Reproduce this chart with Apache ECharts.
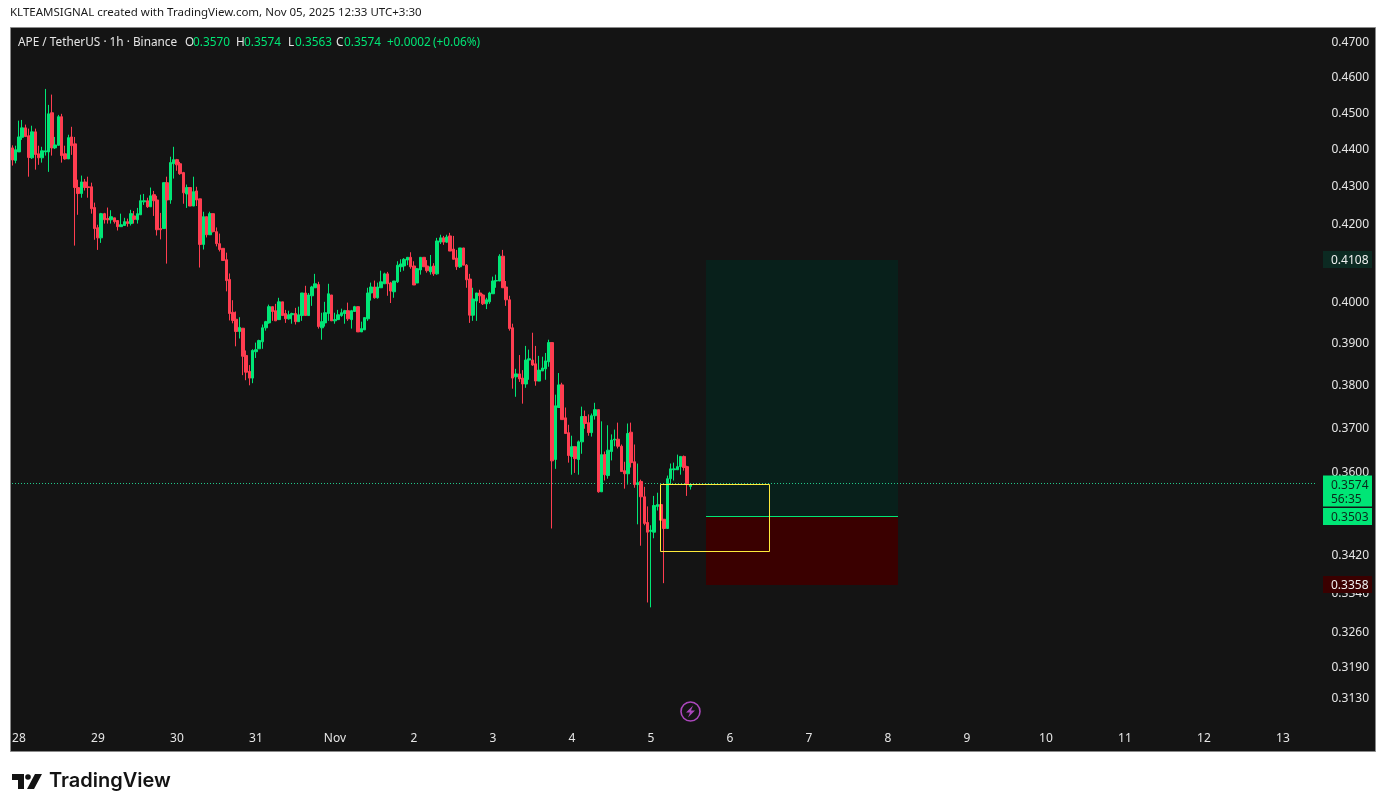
<!DOCTYPE html>
<html>
<head>
<meta charset="utf-8">
<title>APE / TetherUS</title>
<script src="https://cdn.jsdelivr.net/npm/echarts@6/dist/echarts.min.js"></script>
<style>
html, body { margin: 0; padding: 0; background: #fff; }
#chart { width: 1386px; height: 812px; }
</style>
</head>
<body>
<div id="chart"></div>
<script>
// hourly candles, each row is open, close, low, high
var oct27 = [
[.4404,.4371,.4356,.4411],[.4370,.4399,.4362,.4410]];
var oct28 = [
[.4393,.4434,.4393,.4479],[.4433,.4459,.4426,.4481],[.4459,.4435,.4435,.4468],[.4437,.4378,.4326,.4457],
[.4377,.4448,.4374,.4465],[.4448,.4386,.4345,.4457],[.4388,.4377,.4358,.4410],[.4377,.4396,.4364,.4407],
[.4393,.4396,.4383,.4568],[.4393,.4498,.4339,.4523],[.4501,.4404,.4383,.4552],[.4404,.4412,.4401,.4434],
[.4411,.4490,.4410,.4495],[.4490,.4383,.4364,.4498],[.4388,.4374,.4372,.4410],[.4374,.4432,.4374,.4440],
[.4434,.4410,.4385,.4462],[.4415,.4297,.4145,.4434],[.4297,.4281,.4225,.4318],[.4281,.4312,.4270,.4329],
[.4312,.4297,.4289,.4320],[.4299,.4297,.4270,.4326],[.4299,.4241,.4228,.4310],[.4244,.4189,.4160,.4257]];
var oct29 = [
[.4191,.4165,.4134,.4199],[.4165,.4228,.4152,.4230],[.4228,.4212,.4202,.4230],[.4215,.4212,.4202,.4244],
[.4212,.4220,.4202,.4237],[.4217,.4207,.4202,.4217],[.4210,.4194,.4184,.4210],[.4194,.4199,.4194,.4228],
[.4197,.4207,.4197,.4217],[.4207,.4202,.4194,.4215],[.4202,.4228,.4197,.4238],[.4222,.4213,.4202,.4235],
[.4212,.4228,.4202,.4243],[.4225,.4262,.4225,.4278],[.4259,.4262,.4251,.4280],[.4262,.4246,.4243,.4270],
[.4246,.4275,.4246,.4297],[.4278,.4262,.4222,.4288],[.4264,.4186,.4171,.4275],[.4189,.4186,.4161,.4230],
[.4189,.4310,.4189,.4310],[.4310,.4264,.4099,.4326],[.4264,.4364,.4254,.4380],[.4361,.4372,.4321,.4407]];
var oct30 = [
[.4372,.4358,.4342,.4374],[.4361,.4334,.4331,.4366],[.4337,.4283,.4254,.4339],[.4280,.4297,.4243,.4305],
[.4297,.4248,.4248,.4297],[.4248,.4286,.4248,.4326],[.4288,.4264,.4248,.4299],[.4267,.4148,.4089,.4267],
[.4148,.4220,.4135,.4233],[.4220,.4173,.4166,.4220],[.4173,.4228,.4173,.4233],[.4228,.4181,.4179,.4228],
[.4181,.4150,.4143,.4192],[.4150,.4135,.4130,.4176],[.4138,.4107,.4107,.4138],[.4109,.4056,.4029,.4127],
[.4059,.3974,.3957,.4074],[.3977,.3957,.3950,.4007],[.3960,.3930,.3894,.3979],[.3930,.3940,.3913,.3965],
[.3938,.3870,.3825,.3938],[.3872,.3832,.3813,.3884],[.3834,.3818,.3801,.3849],[.3818,.3884,.3806,.3887]];
var oct31 = [
[.3881,.3886,.3866,.3903],[.3888,.3908,.3888,.3910],[.3905,.3939,.3888,.3947],[.3939,.3954,.3932,.3956],
[.3951,.3991,.3949,.3996],[.3991,.3979,.3956,.3991],[.3981,.3956,.3956,.3998],[.3959,.4003,.3959,.4013],
[.4003,.3969,.3969,.4003],[.3974,.3961,.3951,.3983],[.3961,.3971,.3959,.3981],[.3971,.3974,.3949,.3976],
[.3974,.3954,.3947,.3988],[.3954,.3971,.3954,.3991],[.3969,.4025,.3956,.4025],[.4025,.3969,.3969,.4043],
[.3969,.4020,.3969,.4025],[.4018,.4040,.3993,.4043],[.4038,.4048,.4038,.4073],[.4046,.3942,.3937,.4053],
[.3939,.3954,.3910,.3976],[.3951,.3976,.3942,.4003],[.3974,.4023,.3956,.4048],[.4020,.3956,.3956,.4020]];
var nov1 = [
[.3956,.3959,.3949,.3976],[.3959,.3971,.3959,.3983],[.3969,.3976,.3966,.3986],[.3974,.3981,.3949,.3983],
[.3981,.3961,.3956,.4001],[.3959,.3981,.3937,.3983],[.3979,.3991,.3979,.3993],[.3991,.3929,.3929,.3991],
[.3929,.3937,.3929,.3954],[.3934,.3964,.3934,.3964],[.3961,.4025,.3956,.4038],[.4025,.4040,.4006,.4051],
[.4040,.4013,.4011,.4056],[.4013,.4040,.4011,.4051],[.4038,.4053,.4038,.4081],[.4048,.4073,.4048,.4076],
[.4073,.4048,.4018,.4078],[.4050,.4030,.4000,.4053],[.4028,.4055,.4013,.4055],[.4053,.4095,.4050,.4105],
[.4091,.4098,.4078,.4110],[.4093,.4110,.4081,.4113],[.4108,.4115,.4095,.4115],[.4115,.4091,.4086,.4128]];
var nov2 = [
[.4093,.4045,.4045,.4105],[.4050,.4086,.4050,.4088],[.4083,.4115,.4071,.4115],[.4115,.4091,.4091,.4115],
[.4093,.4081,.4076,.4108],[.4078,.4091,.4071,.4121],[.4093,.4073,.4068,.4100],[.4073,.4157,.4071,.4165],
[.4154,.4165,.4149,.4173],[.4165,.4154,.4147,.4170],[.4154,.4167,.4152,.4173],[.4170,.4131,.4131,.4178],
[.4136,.4110,.4110,.4170],[.4113,.4091,.4083,.4134],[.4091,.4139,.4088,.4139],[.4139,.4095,.4095,.4139],
[.4095,.4058,.4038,.4098],[.4060,.3970,.3951,.4073],[.3970,.4010,.3956,.4038],[.4005,.4025,.3956,.4025],
[.4025,.4018,.4000,.4033],[.4020,.3998,.3995,.4023],[.3998,.4008,.3985,.4013],[.4003,.4025,.3998,.4028]];
var nov3 = [
[.4023,.4055,.4023,.4066],[.4055,.4056,.4038,.4071],[.4055,.4118,.4055,.4123],[.4118,.4038,.4038,.4134],
[.4040,.4008,.3993,.4055],[.4008,.3937,.3932,.4018],[.3939,.3818,.3793,.3949],[.3821,.3828,.3774,.3840],
[.3828,.3816,.3809,.3873],[.3818,.3804,.3758,.3837],[.3804,.3861,.3795,.3895],[.3861,.3864,.3814,.3886],
[.3861,.3849,.3847,.3927],[.3852,.3811,.3800,.3895],[.3811,.3837,.3811,.3871],[.3835,.3842,.3835,.3869],
[.3840,.3859,.3814,.3878],[.3857,.3903,.3845,.3910],[.3903,.3627,.3478,.3903],[.3630,.3753,.3609,.3779],
[.3749,.3802,.3749,.3830],[.3802,.3721,.3721,.3807],[.3725,.3689,.3689,.3749],[.3691,.3639,.3623,.3709]];
var nov4 = [
[.3637,.3659,.3596,.3684],[.3659,.3632,.3600,.3659],[.3630,.3670,.3596,.3673],[.3670,.3728,.3643,.3751],
[.3728,.3712,.3700,.3742],[.3714,.3691,.3684,.3733],[.3691,.3730,.3682,.3735],[.3730,.3744,.3721,.3760],
[.3744,.3558,.3556,.3744],[.3558,.3641,.3558,.3717],[.3641,.3596,.3583,.3648],[.3594,.3651,.3587,.3708],
[.3648,.3674,.3628,.3687],[.3674,.3676,.3660,.3698],[.3676,.3660,.3655,.3714],[.3660,.3603,.3603,.3664],
[.3605,.3598,.3565,.3625],[.3598,.3689,.3574,.3712],[.3692,.3623,.3612,.3714],[.3625,.3574,.3567,.3664],
[.3574,.3578,.3487,.3621],[.3581,.3547,.3441,.3585],[.3547,.3489,.3485,.3569],[.3491,.3470,.3322,.3526]];
var nov5 = [
[.3472,.3474,.3312,.3485],[.3470,.3528,.3457,.3549],[.3526,.3530,.3517,.3556],[.3530,.3496,.3496,.3530],
[.3498,.3478,.3362,.3498],[.3478,.3587,.3478,.3594],[.3587,.3609,.3574,.3621],[.3607,.3609,.3583,.3623],
[.3607,.3614,.3607,.3641],[.3614,.3637,.3596,.3637],[.3637,.3612,.3605,.3639],[.3614,.3574,.3549,.3616],
[.3570,.3574,.3563,.3574]];

var dayTickIndex = [2, 26, 50, 74, 98, 122, 146, 170, 194, 218, 242, 266, 290, 314, 338, 362, 386];
var dayTickLabels = ['28', '29', '30', '31', 'Nov', '2', '3', '4', '5', '6', '7', '8', '9', '10', '11', '12', '13'];
var priceTicks = [0.47, 0.46, 0.45, 0.44, 0.43, 0.42, 0.40, 0.39, 0.38, 0.37, 0.36, 0.342, 0.334, 0.326, 0.319, 0.313];

var lastPrice = 0.3574;
var entryPrice = 0.3503;
var targetPrice = 0.4108;
var stopPrice = 0.3358;
var boxLowPrice = 0.3429;

var badgePrices = [targetPrice, stopPrice, entryPrice, lastPrice];
var badgeLabels = ['0.4108', '0.3358', '0.3503', '0.3574'];
var badgeCountdown = ['', '', '', '56:35'];
var badgeFill = ['#0c2a22', '#3a0000', '#00e676', '#00e676'];
var badgeText = ['#f0f0f0', '#f0f0f0', '#0b2a1c', '#0b2a1c'];

// long position zones, by candle slot and price
var zoneFrom = [211, 211];
var zoneTo = [269, 269];
var zoneTop = [targetPrice, entryPrice];
var zoneBottom = [entryPrice, stopPrice];
var zoneFill = ['#08201b', '#3a0000'];

var levelPrices = [lastPrice, entryPrice];
var levelFrom = [0, 211];
var levelTo = [396, 269];
var levelColor = ['#22c98a', '#00e676'];
var levelDash = [[1, 2], null];
var levelShift = [-1, 0];

var headerTexts = ['APE / TetherUS · 1h · Binance', 'O', '0.3570', 'H', '0.3574', 'L', '0.3563', 'C', '0.3574', '+0.0002', '(+0.06%)'];
var headerX = [18, 185, 193, 236, 244, 288, 295, 336, 344, 387, 433];
var headerIsValue = [false, false, true, false, true, false, true, false, true, true, true];

var candles = oct27.concat(oct28, oct29, oct30, oct31, nov1, nov2, nov3, nov4, nov5);

var categories = [];
for (var i = 0; i < 397; i++) {
    categories.push('h' + i);
}

var myChart = echarts.init(document.getElementById('chart'), null, {renderer: 'canvas'});

var font_name = '"Noto Sans", sans-serif';

var graphic = [
    {type: 'rect', z: -10, silent: true, shape: {x: 10.5, y: 27.5, width: 1365, height: 724},
        style: {fill: '#141414', stroke: '#8a8a8a', lineWidth: 1}},
    {type: 'text', x: 10, y: 7, silent: true,
        style: {text: 'KLTEAMSIGNAL created with TradingView.com, Nov 05, 2025 12:33 UTC+3:30', fill: '#1a1a1a', font: '11.5px ' + font_name}},
    // tradingview mark and name under the frame
    {type: 'polygon', silent: true, shape: {points: [[12, 774], [24, 774], [24, 789], [18, 789], [18, 780], [12, 780]]}, style: {fill: '#131313'}},
    {type: 'circle', silent: true, shape: {cx: 28, cy: 777, r: 2.8}, style: {fill: '#131313'}},
    {type: 'polygon', silent: true, shape: {points: [[35, 774], [42, 774], [34, 789], [27, 789]]}, style: {fill: '#131313'}},
    {type: 'text', x: 49, y: 771, silent: true,
        style: {text: 'TradingView', fill: '#131313', font: '600 20px Inter, sans-serif'}},
    // lightning marker
    {type: 'circle', silent: true, shape: {cx: 690.5, cy: 711.5, r: 9.5}, style: {fill: 'none', stroke: '#ab47bc', lineWidth: 1.6}},
    {type: 'polygon', silent: true, shape: {points: [[693, 705.5], [686, 712.5], [690, 712.5], [688, 717.5], [695, 710.5], [691, 710.5]]}, style: {fill: '#ab47bc'}}
];

for (var h = 0; h < headerTexts.length; h++) {
    graphic.push({
        type: 'text', x: headerX[h], y: 37, silent: true,
        style: {
            text: headerTexts[h],
            fill: headerIsValue[h] ? '#00e676' : '#e6e6e6',
            font: '11.8px ' + font_name
        }
    });
}

var xAxis = {
    type: 'category',
    data: categories,
    boundaryGap: true,
    axisLine: {show: false},
    axisTick: {show: false},
    splitLine: {show: false},
    axisLabel: {
        color: '#e6e6e6',
        fontFamily: 'Noto Sans',
        fontSize: 12,
        margin: 7,
        interval: function(index){ return dayTickIndex.indexOf(index) >= 0; },
        formatter: function(value, index){ return dayTickLabels[dayTickIndex.indexOf(index)]; }
    }
};

var yAxis = {
    type: 'log',
    logBase: 10,
    position: 'right',
    min: 0.3077,
    max: 0.4741,
    axisLine: {show: false},
    axisTick: {show: false},
    splitLine: {show: false},
    axisLabel: {
        color: '#e6e6e6',
        fontFamily: 'Noto Sans',
        fontSize: 12,
        margin: 14,
        customValues: priceTicks,
        formatter: function(value){ return value.toFixed(4); }
    }
};

var series = [{
    name: 'zones',
    type: 'custom',
    silent: true,
    z: 1,
    data: zoneFrom.map(function(x, k){ return [x, zoneTop[k]]; }),
    encode: {x: 0, y: 1},
    renderItem: function(params, api){
        var k = params.dataIndex;
        var a = api.coord([zoneFrom[k], zoneTop[k]]);
        var b = api.coord([zoneTo[k], zoneBottom[k]]);
        var x0 = Math.floor(a[0]);
        var y0 = Math.floor(a[1]);
        return {
            type: 'rect',
            shape: {x: x0, y: y0, width: Math.round(b[0]) - x0, height: Math.floor(b[1]) - y0},
            style: {fill: zoneFill[k]}
        };
    }
}, {
    name: 'levels',
    type: 'custom',
    silent: true,
    z: 2,
    data: levelFrom.map(function(x, k){ return [x, levelPrices[k]]; }),
    encode: {x: 0, y: 1},
    renderItem: function(params, api){
        var k = params.dataIndex;
        var a = api.coord([levelFrom[k], levelPrices[k]]);
        var b = api.coord([levelTo[k], levelPrices[k]]);
        var y = Math.floor(a[1]) + levelShift[k] + 0.5;
        return {
            type: 'line',
            shape: {x1: Math.floor(a[0]), y1: y, x2: Math.round(b[0]), y2: y},
            style: {stroke: levelColor[k], lineWidth: 1, lineDash: levelDash[k]}
        };
    }
}, {
    name: 'APE',
    type: 'candlestick',
    data: candles,
    barWidth: 3,
    z: 3,
    itemStyle: {
        color: '#00e676',
        color0: '#ff3d50',
        borderColor: '#00e676',
        borderColor0: '#ff3d50',
        borderColorDoji: '#00e676',
        borderWidth: 1
    }
}, {
    // yellow box goes over the candles
    name: 'box',
    type: 'custom',
    silent: true,
    z: 5,
    data: [[197, lastPrice]],
    encode: {x: 0, y: 1},
    renderItem: function(params, api){
        var a = api.coord([197, lastPrice]);
        var b = api.coord([230, boxLowPrice]);
        var x0 = Math.floor(a[0]) + 0.5;
        var y0 = Math.floor(a[1]) + 0.5;
        return {
            type: 'rect',
            shape: {x: x0, y: y0, width: Math.round(b[0]) + 0.5 - x0, height: Math.floor(b[1]) + 0.5 - y0},
            style: {fill: 'none', stroke: '#ffeb3b', lineWidth: 1}
        };
    }
}, {
    // price badges on the right scale
    name: 'badges',
    type: 'custom',
    silent: true,
    z: 10,
    data: badgePrices.map(function(p){ return [0, p]; }),
    encode: {x: 0, y: 1},
    renderItem: function(params, api){
        var k = params.dataIndex;
        var y = api.coord([0, api.value(1)])[1];
        var left = params.coordSys.x + params.coordSys.width + 5.5;
        var two = badgeCountdown[k] !== '';
        var children = [{
            type: 'rect',
            shape: {x: left, y: y - 9, width: 49, height: two ? 31 : 17},
            style: {fill: badgeFill[k]}
        }, {
            type: 'text',
            style: {x: left + 8, y: y + 0.5, text: badgeLabels[k], fill: badgeText[k], font: '12px ' + font_name, verticalAlign: 'middle'}
        }];
        if (two) {
            children.push({
                type: 'text',
                style: {x: left + 8, y: y + 15, text: badgeCountdown[k], fill: badgeText[k], font: '12px ' + font_name, verticalAlign: 'middle'}
            });
        }
        return {type: 'group', children: children};
    }
}];

var option = {
    animation: false,
    backgroundColor: '#ffffff',
    tooltip: {show: false},
    grid: {left: 10.7, top: 29, width: 1306.8, height: 697, containLabel: false},
    xAxis: xAxis,
    yAxis: yAxis,
    graphic: graphic,
    series: series
};

myChart.setOption(option);
</script>
</body>
</html>
